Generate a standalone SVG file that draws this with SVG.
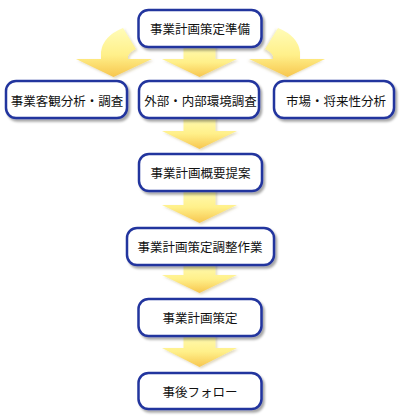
<svg xmlns="http://www.w3.org/2000/svg" width="400" height="418" viewBox="0 0 400 418">
  <defs>
    <linearGradient id="ag" x1="0" y1="0" x2="0" y2="1">
      <stop offset="0" stop-color="#fffcb8"/>
      <stop offset="0.55" stop-color="#fff08a"/>
      <stop offset="1" stop-color="#f7c64e"/>
    </linearGradient>
    <filter id="sh" x="-10%" y="-10%" width="130%" height="140%">
      <feDropShadow dx="2" dy="2.5" stdDeviation="1.3" flood-color="#000" flood-opacity="0.35"/>
    </filter>
    <filter id="ash" x="-10%" y="-10%" width="130%" height="140%">
      <feDropShadow dx="1.5" dy="1.5" stdDeviation="1" flood-color="#806000" flood-opacity="0.25"/>
    </filter>
  </defs>
  <style>
    .arrow { fill: url(#ag); filter: url(#ash); }
    .box { fill: #ffffff; stroke: #23349e; stroke-width: 2.5; filter: url(#sh); }
    .lbl { font-family: "Noto Sans CJK JP", "Noto Sans", sans-serif; font-size: 12.5px; fill: #111; text-anchor: middle; dominant-baseline: central; }
  </style>
  <rect width="400" height="418" fill="#ffffff"/>
  <g id="connectors">
    <path class="arrow" d="M123,28 L136,49 Q130,52 128,56 L128,59 L152,59 L113.5,77 L76,59 L101,59 L101,52 Q103,36 123,28 Z"/>
    <path class="arrow" transform="translate(401,0) scale(-1,1)" d="M123,28 L136,49 Q130,52 128,56 L128,59 L152,59 L113.5,77 L76,59 L101,59 L101,52 Q103,36 123,28 Z"/>
    <path class="arrow" d="M183.5,44 L215.5,44 L215.5,59 L237,59 L199.5,77 L162,59 L183.5,59 Z"/>
    <path class="arrow" d="M183.5,115 L215.5,115 L215.5,131 L237,131 L199.5,149 L162,131 L183.5,131 Z"/>
    <path class="arrow" d="M183.5,188 L215.5,188 L215.5,205 L237,205 L199.5,223 L162,205 L183.5,205 Z"/>
    <path class="arrow" d="M183.5,262 L215.5,262 L215.5,275 L237,275 L199.5,293 L162,275 L183.5,275 Z"/>
    <path class="arrow" d="M183.5,333 L215.5,333 L215.5,348 L237,348 L199.5,367 L162,348 L183.5,348 Z"/>
  </g>
  <g id="n1"><rect class="box" x="138.5" y="10" width="123" height="37" rx="10"/><text class="lbl" x="200" y="28.5">事業計画策定準備</text></g>
  <g id="n2"><rect class="box" x="6" y="81" width="121" height="37" rx="10"/><text class="lbl" x="67" y="100">事業客観分析・調査</text></g>
  <g id="n3"><rect class="box" x="139" y="81" width="120" height="37" rx="10"/><text class="lbl" x="200.5" y="100">外部・内部環境調査</text></g>
  <g id="n4"><rect class="box" x="274" y="81" width="120" height="37" rx="10"/><text class="lbl" x="336" y="100">市場・将来性分析</text></g>
  <g id="n5"><rect class="box" x="139" y="154" width="123" height="37" rx="10"/><text class="lbl" x="200.5" y="172.5">事業計画概要提案</text></g>
  <g id="n6"><rect class="box" x="127" y="228" width="147" height="37" rx="10"/><text class="lbl" x="200" y="246.5">事業計画策定調整作業</text></g>
  <g id="n7"><rect class="box" x="138.5" y="299" width="123" height="37" rx="10"/><text class="lbl" x="200" y="317.5">事業計画策定</text></g>
  <g id="n8"><rect class="box" x="138.5" y="373" width="123" height="36" rx="10"/><text class="lbl" x="200" y="391">事後フォロー</text></g>
</svg>
